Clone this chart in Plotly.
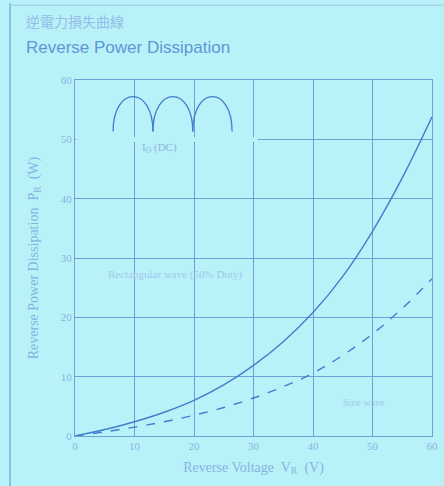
import plotly.graph_objects as go

# Data
voltage = [0, 5, 10, 15, 20, 25, 30, 35, 40, 45, 50, 55, 60]
rect_wave = [0, 1.1, 2.4, 4.0, 6.0, 8.6, 11.9, 15.9, 20.8, 26.9, 34.5, 43.5, 53.8]
sine_wave = [0, 0.7, 1.5, 2.4, 3.5, 4.8, 6.4, 8.3, 10.6, 13.6, 17.2, 21.5, 26.5]
tick_vals = [0, 10, 20, 30, 40, 50, 60]
tick_text = ["0", "10", "20", "30", "40", "50", "60"]

BG = "#b9f1f9"
LINE = "#3f7fcc"
GRID = "#6f9fd6"
TXT = "#86b4e2"
SERIF = "Liberation Serif, Times New Roman, serif"

fig = go.Figure()
fig.add_trace(go.Scatter(x=voltage, y=rect_wave, mode="lines", line=dict(color=LINE, width=1.4, shape="spline"),
                         showlegend=False, hoverinfo="skip"))
fig.add_trace(go.Scatter(x=voltage, y=sine_wave, mode="lines", line=dict(color=LINE, width=1.4, dash="dash", shape="spline"),
                         showlegend=False, hoverinfo="skip"))

axis_common = dict(range=[0, 60], tickvals=tick_vals, ticktext=tick_text, showline=True, linecolor=GRID,
                   linewidth=1, mirror=True, gridcolor=GRID, gridwidth=1, zeroline=False, automargin=False,
                   tickfont=dict(family=SERIF, size=11, color=TXT), ticks="", fixedrange=True)
fig.update_xaxes(**axis_common,
                 title=dict(text="Reverse Voltage  V<sub>R</sub>  (V)", font=dict(family=SERIF, size=14, color=TXT), standoff=10))
fig.update_yaxes(**axis_common,
                 title=dict(text="Reverse Power Dissipation  P<sub>R</sub>  (W)", font=dict(family=SERIF, size=14, color=TXT), standoff=18))

shapes = []
# hide part of the 50 W grid line behind the waveform icon
shapes.append(dict(type="rect", xref="x", yref="y", x0=0.2, x1=30.7, y0=49.6, y1=50.4, fillcolor=BG,
                   line=dict(width=0), layer="between"))
# waveform icon: three arches
arch_edges = [6.4, 13.1, 19.8, 26.4]
yb, yt = 51.3, 57.2
yc = yb + (yt - yb) * 4 / 3
for a, b in zip(arch_edges[:-1], arch_edges[1:]):
    shapes.append(dict(type="path", xref="x", yref="y",
                       path=f"M {a},{yb} C {a},{yc} {b},{yc} {b},{yb}",
                       line=dict(color=LINE, width=1.3)))
# outer frame lines
shapes.append(dict(type="line", xref="paper", yref="paper", x0=-0.182, x1=-0.182, y0=-0.2, y1=1.215,
                   line=dict(color="#7aaedc", width=1.5)))
shapes.append(dict(type="line", xref="paper", yref="paper", x0=-0.182, x1=1.04, y0=1.21, y1=1.21,
                   line=dict(color="#9cc8ea", width=1)))

annotations = [
    dict(text="逆電力損失曲線", xref="paper", yref="paper", x=-0.143, y=1.2, xanchor="left", yanchor="top",
         showarrow=False, font=dict(family="Noto Sans CJK TC", size=14, color="#93bde6")),
    dict(text="Reverse Power Dissipation", xref="paper", yref="paper", x=-0.143, y=1.123, xanchor="left",
         yanchor="top", showarrow=False, font=dict(family="Liberation Sans, Arial", size=17, color="#5e97d6")),
    dict(text="I<sub>O</sub> (DC)", x=14.2, y=48.5, xref="x", yref="y", showarrow=False,
         font=dict(family=SERIF, size=11, color=TXT)),
    dict(text="Rectangular wave (50% Duty)", x=16.8, y=27.3, xref="x", yref="y", showarrow=False,
         font=dict(family=SERIF, size=11, color="#a3c8ea")),
    dict(text="Sine wave", x=48.5, y=5.6, xref="x", yref="y", showarrow=False,
         font=dict(family=SERIF, size=10, color="#a3c8ea")),
]

fig.update_layout(width=444, height=486, margin=dict(l=75, r=12, t=80, b=50),
                  paper_bgcolor=BG, plot_bgcolor=BG, shapes=shapes, annotations=annotations)
fig.write_html("out.html", config={"displayModeBar": False, "staticPlot": True},
               post_script="document.body.style.margin='0';document.body.style.overflow='hidden';")
